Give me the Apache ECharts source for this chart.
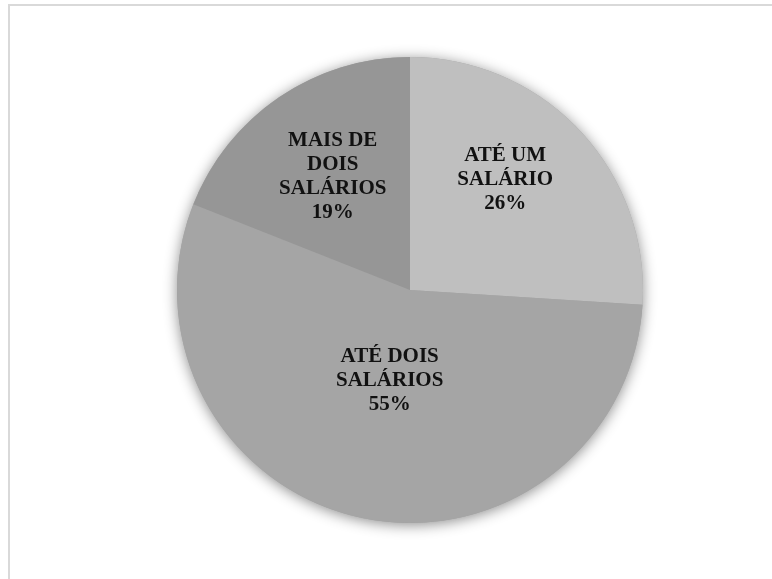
<!DOCTYPE html>
<html>
<head>
<meta charset="utf-8">
<script src="https://cdn.jsdelivr.net/npm/echarts@6/dist/echarts.min.js"></script>
<style>
  html, body { margin: 0; padding: 0; background: #ffffff; }
  #frame { position: absolute; left: 8px; top: 4px; width: 800px; height: 600px;
           border-left: 2px solid #d9d9d9; border-top: 2px solid #d9d9d9; box-sizing: border-box; }
  #chart { position: absolute; left: 0; top: 0; width: 772px; height: 579px; }
</style>
</head>
<body>
<div id="frame"></div>
<div id="chart"></div>
<script>
// Income brackets and their shares (%)
const categories = ['ATÉ UM\nSALÁRIO', 'ATÉ DOIS\nSALÁRIOS', 'MAIS DE\nDOIS\nSALÁRIOS'];
const shares = [26, 55, 19];
const sliceColors = ['#bfbfbf', '#a5a5a5', '#969696'];

const CENTER = [410, 290];
const RADIUS = 233;
// label placement per slice: distance from centre (fraction of radius) and angle nudge (degrees)
const labelDist = [0.625, 0.40, 0.59];
const labelNudge = [-6, 0, 0];

const chart = echarts.init(document.getElementById('chart'), null, { renderer: 'canvas' });

const total = shares.reduce((a, b) => a + b, 0);
const midAngles = [];
let acc = 0;
shares.forEach(v => {
  midAngles.push((acc + v / 2) / total * 2 * Math.PI);
  acc += v;
});

chart.setOption({
  animation: false,
  backgroundColor: 'transparent',
  series: [
    {
      // soft drop shadow behind the whole disc
      type: 'pie',
      silent: true,
      center: CENTER,
      radius: RADIUS,
      z: 1,
      label: { show: false },
      labelLine: { show: false },
      itemStyle: { color: '#a5a5a5', shadowBlur: 14, shadowColor: 'rgba(0,0,0,0.45)', shadowOffsetY: 2 },
      data: [{ value: 1 }]
    },
    {
      type: 'pie',
      center: CENTER,
      radius: RADIUS,
      startAngle: 90,
      clockwise: true,
      z: 2,
      itemStyle: { borderWidth: 0 },
      label: {
        show: true,
        position: 'inside',
        formatter: p => p.name + '\n' + p.value + '%',
        fontFamily: '"Liberation Serif", "Times New Roman", serif',
        fontWeight: 'bold',
        fontSize: 21,
        lineHeight: 24,
        color: '#111111',
        align: 'center'
      },
      labelLayout: params => {
        const i = params.dataIndex;
        const a = midAngles[i] + labelNudge[i] * Math.PI / 180;
        const r = RADIUS * labelDist[i];
        return {
          x: CENTER[0] + r * Math.sin(a),
          y: CENTER[1] - r * Math.cos(a),
          align: 'center',
          verticalAlign: 'middle'
        };
      },
      data: categories.map((c, i) => ({
        name: c,
        value: shares[i],
        itemStyle: { color: sliceColors[i] }
      }))
    }
  ]
});
</script>
</body>
</html>
